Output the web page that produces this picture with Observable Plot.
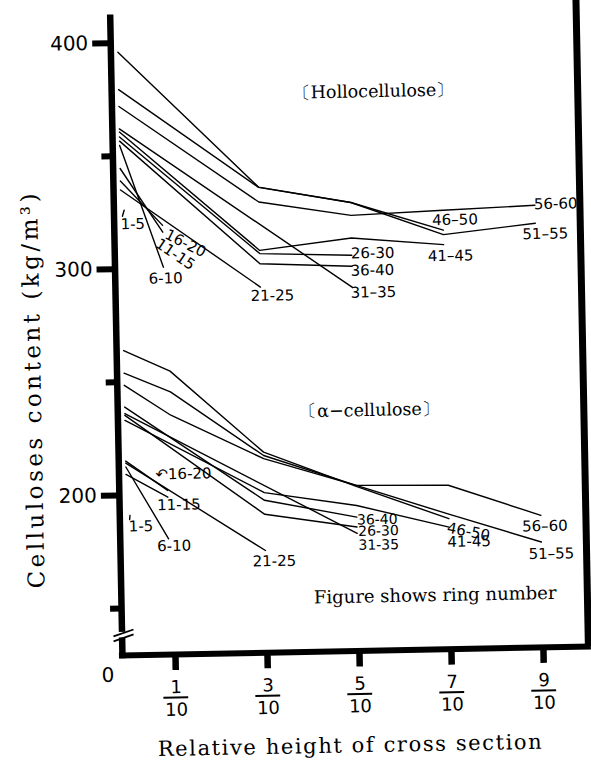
<!DOCTYPE html>
<html><head><meta charset="utf-8">
<script src="https://cdn.jsdelivr.net/npm/d3@7"></script>
<script src="https://cdn.jsdelivr.net/npm/@observablehq/plot@0.6"></script>
<style>
html,body{margin:0;padding:0;background:#fff;}
#chart{position:relative;width:591px;height:760px;overflow:hidden;background:#fff;}
#chart svg{display:block;transform-origin:122px 657px;transform:rotate(-1.1deg);}
</style></head><body><div id="chart"></div>
<script>
// ---- data ----
const ringGroups = ["1-5","6-10","11-15","16-20","21-25","26-30","31-35","36-40","41-45","46-50","51-55","56-60"];
const holloLabelText = ["1-5","6-10","11-15","16-20","21-25","26-30","31–35","36-40","41–45","46–50","51–55","56-60"];
const alphaLabelText = ["1-5","6-10","11-15","↶16-20","21-25","26-30","31-35","36-40","41-45","46-50","51–55","56–60"];

// relative height of each measured point (per ring group)
const holloX = [
  [0.007, 0.003],
  [0, 0.09],
  [0, 0.09],
  [0, 0.09],
  [0, 0.3],
  [0, 0.3, 0.5],
  [0, 0.5],
  [0, 0.3, 0.5],
  [0, 0.3, 0.5, 0.7],
  [0, 0.3, 0.5, 0.7],
  [0, 0.3, 0.5, 0.7, 0.9],
  [0, 0.3, 0.5, 0.7, 0.9]
];
// hollocellulose content, kg/m3
const holloY = [
  [326, 323.4],
  [354.7, 300.5],
  [344.5, 316],
  [339, 319],
  [335, 290.9],
  [358.4, 305.7, 304.2],
  [362, 290],
  [356.6, 301.2, 299.3],
  [360.6, 307.1, 311.8, 308.1],
  [395.9, 335.1, 327.5, 314.5],
  [379.4, 335, 327.5, 312.5, 316.8],
  [371.9, 328.5, 321.8, 323.3, 324.7]
];
const alphaX = [
  [0.007, 0.006],
  [0, 0.09],
  [0, 0.09],
  [0, 0.09],
  [0, 0.3],
  [0, 0.3, 0.5],
  [0, 0.5],
  [0, 0.3, 0.5],
  [0, 0.3, 0.5, 0.7],
  [0, 0.1, 0.3, 0.5, 0.7],
  [0, 0.1, 0.3, 0.5, 0.7, 0.9],
  [0, 0.1, 0.3, 0.5, 0.7, 0.9]
];
// alpha-cellulose content, kg/m3
const alphaY = [
  [191, 189.2],
  [212.5, 180.4],
  [209.2, 198.8],
  [215.1, 201.8],
  [214.2, 174.4],
  [235.3, 190.4, 184.0],
  [236.1, 181.2],
  [239.0, 196.6, 188.4],
  [233.1, 200.0, 193.5, 183.2],
  [264.0, 254.5, 217.9, 202.0, 186.9],
  [254.0, 245.3, 216.4, 202.4, 188.9, 175.8],
  [248.6, 235.0, 215.0, 202.4, 201.7, 187.6]
];

// axes / ticks
const xTicks = [0.1, 0.3, 0.5, 0.7, 0.9];
const xNumerators = ["1", "3", "5", "7", "9"];
const xDenominator = "10";
const yLabeledTicks = [200, 300, 400];
const yMinorTicks = [150, 250, 350];
const yBreakLabel = "0";
const yTitle = "Celluloses content (kg/m³)";
const xTitle = "Relative height of cross section";
const panelTitles = ["〔Hollocellulose〕", "〔α−cellulose〕"];
const noteText = "Figure shows ring number";

// ---- layout (not data) ----
const xMin = -0.0152, xMax = 0.9978, yMin = 129.2, yMax = 418.8, yAxisTop = 411;
// label offsets [dx, dy, rotate, anchor, fontSize]
const holloLabelPos = [
  [-2, 8.3, 0, "start", 15], [-15, 11.4, 0, "start", 15], [12, 22.5, 35, "middle", 15], [22.5, 18.5, 28, "middle", 15],
  [-10, 9, 0, "start", 15], [-1, -1.5, 0, "start", 15], [-2, 5.5, 0, "start", 15], [-1.5, 4.5, 0, "start", 15],
  [-16, 11.4, 0, "start", 15], [-11, -10, 0, "start", 15], [-13, 11, 0, "start", 15], [-1, -1, 0, "start", 15]
];
const alphaLabelPos = [
  [-1, 7, 0, "start", 15], [-11.6, 7.5, 0, "start", 15], [-10.8, 8, 0, "start", 15], [-12, -16, 0, "start", 15],
  [-13, 11, 0, "start", 15], [1, 4.5, 0, "start", 14], [1, 12, 0, "start", 14], [0, 3, 0, "start", 14],
  [-2, 15, 0, "start", 15], [-2, 9, 12, "start", 15], [-13, 12, 0, "start", 15], [-19, 11, 0, "start", 15]
];
// annotation anchors in data space
const panelTitlePos = [[0.554, 376.4], [0.532, 235.5]];
const notePos = [0.667, 153.1];

const SANS = "DejaVu Sans";
const SERIF = "DejaVu Serif";

function rows(panel, xs, ys) {
  return ringGroups.flatMap((g, i) => xs[i].map((x, j) => ({panel, group: g, x, y: ys[i][j]})));
}
const lineRows = [...rows("h", holloX, holloY), ...rows("a", alphaX, alphaY)];

function labelMarks(xs, ys, texts, pos) {
  return ringGroups.map((g, i) => {
    const n = xs[i].length;
    const end = {x: xs[i][n - 1], y: ys[i][n - 1]};
    const [dx, dy, rotate, anchor, fs] = pos[i];
    return Plot.text([end], {x: "x", y: "y", text: () => texts[i], dx, dy, rotate, textAnchor: anchor,
      lineAnchor: "middle", fontSize: fs, fontFamily: SANS});
  });
}

const chart = Plot.plot({
  width: 591, height: 760,
  marginLeft: 122, marginRight: 3, marginTop: 0, marginBottom: 105,
  x: {domain: [xMin, xMax], label: null},
  y: {domain: [yMin, yMax], label: null},
  style: {background: "white", color: "black", fontFamily: SANS, overflow: "visible"},
  marks: [
    // data lines
    Plot.line(lineRows, {x: "x", y: "y", z: d => d.panel + d.group, stroke: "black", strokeWidth: 1.4}),
    // ring-group labels
    ...labelMarks(holloX, holloY, holloLabelText, holloLabelPos),
    ...labelMarks(alphaX, alphaY, alphaLabelText, alphaLabelPos),
    // frame: left, right, bottom
    Plot.ruleX([xMin], {y1: yMin, y2: yAxisTop, strokeWidth: 6.5, strokeLinecap: "square"}),
    Plot.ruleX([xMax], {strokeWidth: 7}),
    Plot.ruleY([yMin], {strokeWidth: 6, strokeLinecap: "square"}),
    // axis break
    Plot.ruleX([xMin], {y1: 137.0, y2: 139.4, stroke: "white", strokeWidth: 9}),
    Plot.link([0, 1], {x1: -0.0339, x2: 0.0098, y1: d => d ? 135.5 : 137.7, y2: d => d ? 138.4 : 140.6, strokeWidth: 1.8}),
    // y ticks
    Plot.axisY(yLabeledTicks, {anchor: "left", tickSize: 18, tickPadding: 4.5, strokeWidth: 6, fontSize: 20, fontFamily: SANS, label: null, tickFormat: d => String(d)}),
    Plot.axisY(yMinorTicks, {anchor: "left", tickSize: 11, strokeWidth: 6, label: null, tickFormat: () => ""}),
    Plot.text([yBreakLabel], {frameAnchor: "bottom-left", textAnchor: "middle", lineAnchor: "middle", dx: -14.8, dy: 19.7, fontSize: 20, fontFamily: SANS}),
    // x ticks as fractions
    Plot.axisX(xTicks, {anchor: "bottom", tickSize: 16, strokeWidth: 6.5, label: null, tickFormat: () => ""}),
    Plot.text(xTicks, {x: d => d, text: (d, i) => xNumerators[i], frameAnchor: "bottom", lineAnchor: "middle", dy: 33, fontSize: 18, fontFamily: SANS}),
    Plot.ruleY(xTicks, {x1: d => d - 0.027, x2: d => d + 0.027, y: () => yMin, dy: 43, strokeWidth: 2}),
    Plot.text(xTicks, {x: d => d, text: () => xDenominator, frameAnchor: "bottom", lineAnchor: "middle", dy: 55.5, fontSize: 18, fontFamily: SANS}),
    // titles and notes
    Plot.text([xTitle], {frameAnchor: "bottom", textAnchor: "middle", lineAnchor: "middle", dx: -6.7, dy: 94.5, fontSize: 21, fontFamily: SERIF}),
    Plot.text([yTitle], {frameAnchor: "left", textAnchor: "middle", lineAnchor: "middle", dx: -84, dy: 59.5, rotate: -90, fontSize: 23, fontFamily: SERIF}),
    Plot.text(panelTitles, {x: (d, i) => panelTitlePos[i][0], y: (d, i) => panelTitlePos[i][1], fontSize: 17.5, fontFamily: SERIF}),
    Plot.text([noteText], {x: () => notePos[0], y: () => notePos[1], fontSize: 18, fontFamily: SERIF})
  ]
});
// letter spacing of the scanned titles
d3.select(chart).selectAll("text").each(function () {
  const t = this.textContent;
  if (t === xTitle) d3.select(this).attr("letter-spacing", "1.6px");
  if (t === yTitle) d3.select(this).attr("letter-spacing", "3.5px");
});
document.getElementById("chart").append(chart);
</script>
</body></html>
